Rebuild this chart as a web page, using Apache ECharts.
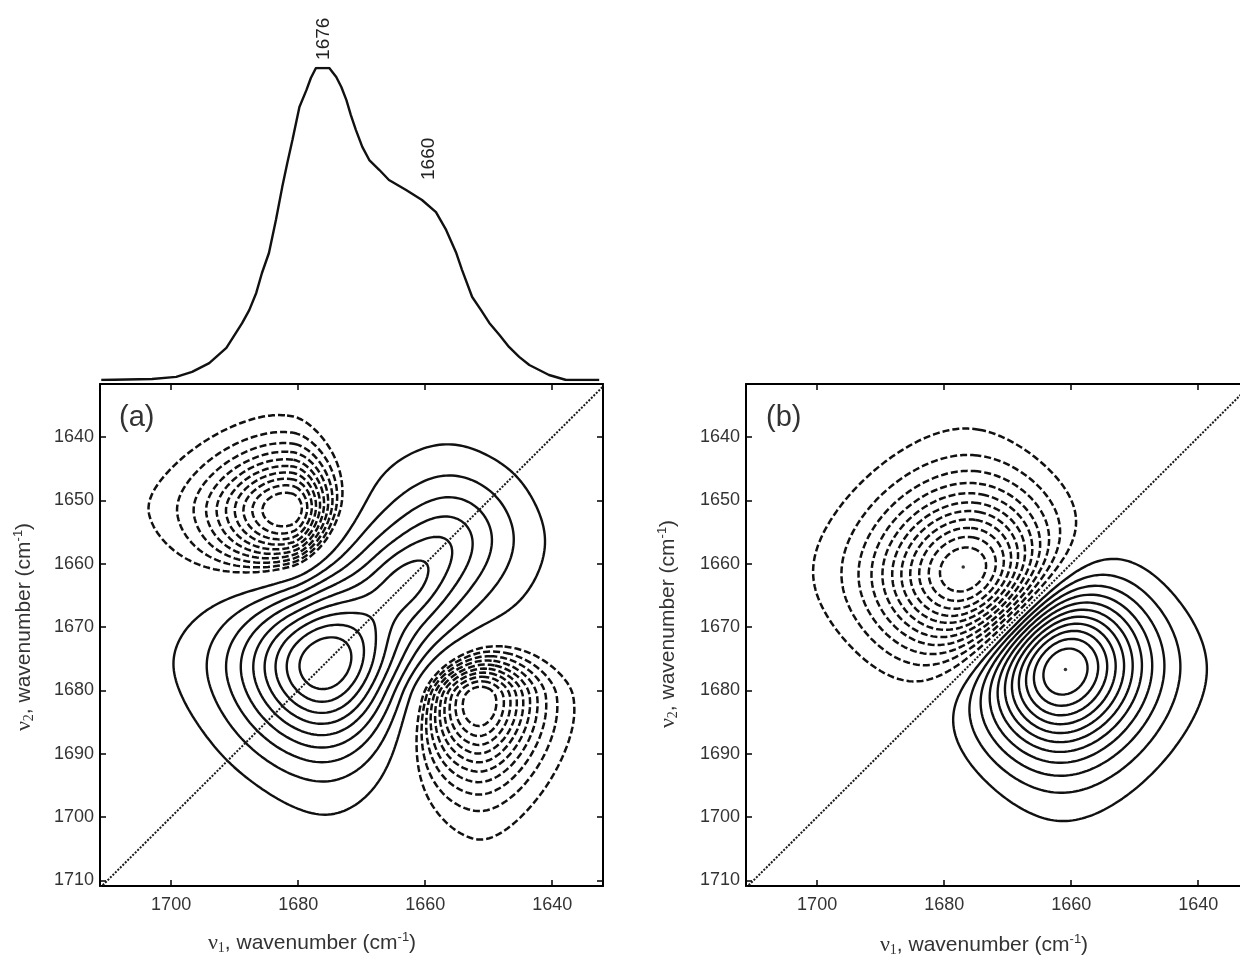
<!DOCTYPE html>
<html>
<head>
<meta charset="utf-8">
<script src="https://cdn.jsdelivr.net/npm/echarts@6/dist/echarts.min.js"></script>
<style>
  html, body { margin: 0; padding: 0; background: #fff; }
  #chart { width: 1240px; height: 957px; }
</style>
</head>
<body>
<div id="chart"></div>
<script>
// averaged 1D spectrum drawn above panel (a): wavenumber / relative absorbance
const specWn = [1711.0, 1703.0, 1699.2, 1696.7, 1694.0, 1691.3, 1688.8, 1687.7, 1686.6, 1685.7, 1684.6,
  1683.5, 1682.5, 1681.7, 1680.9, 1679.8, 1678.7, 1678.0, 1677.2, 1675.1, 1674.0, 1673.2, 1672.4, 1671.7,
  1670.9, 1669.9, 1668.8, 1667.2, 1665.7, 1663.0, 1660.5, 1658.3, 1656.7, 1655.1, 1654.2, 1652.6, 1651.2,
  1649.9, 1648.3, 1646.8, 1645.2, 1643.6, 1640.5, 1637.8, 1632.6];
const specAbs = [0.000, 0.003, 0.010, 0.026, 0.054, 0.103, 0.183, 0.224, 0.279, 0.343, 0.407,
  0.513, 0.619, 0.696, 0.769, 0.875, 0.929, 0.968, 1.000, 1.000, 0.971, 0.939, 0.897, 0.849,
  0.801, 0.747, 0.705, 0.673, 0.641, 0.609, 0.577, 0.538, 0.481, 0.407, 0.353, 0.266, 0.224,
  0.183, 0.144, 0.106, 0.074, 0.048, 0.016, 0.000, 0.000];
const peakLabels = ['1676', '1660'];
const peakLabelWn = [1676, 1659.4];
const peakLabelAbs = [1.026, 0.641];

const xTicks = [1640, 1660, 1680, 1700];
const yTicks = [1640, 1650, 1660, 1670, 1680, 1690, 1700, 1710];
const xRange = [1632.0, 1711.2];
const yRange = [1631.6, 1710.9];

// (a) synchronous map, peaks: [v1, v2, amplitude, w1 high, w1 low, w2 high, w2 low, rotation deg]
// off-diagonal peaks are mirrored about the diagonal
const synPeaks = [
  [1676, 1676, 1.00, 11.5, 11.5, 11.5, 11.5, 0],
  [1656, 1656, 0.38, 10, 10, 10, 10, 0],
  [1663, 1663, 0.30, 7, 7, 5.5, 5.5, 45],
  [1681, 1652.3, -0.5, 10.5, 6.5, 10.5, 8.2, 0]
];
const synEta = 0.4; // lorentzian share of the band shape
const synPosLevels = [0.1, 0.2, 0.3, 0.4, 0.5, 0.6, 0.7, 0.8, 0.9];
const synNegLevels = [0.09, 0.18, 0.27, 0.36, 0.45, 0.54, 0.63, 0.72, 0.81, 0.9];

// (b) asynchronous map, bands: [centre, w high, w low]; pairs: [i, j, amplitude]
const asynBands = [[1675.25, 12, 12], [1662.25, 11.2, 11.2]];
const asynPairs = [[1, 0, 1.0]];
const asynEta = 0.25;
const asynLevels = [1, 2, 3, 4, 5, 6, 7, 8, 9, 10, 11].map(k => k / 12);
const asynDots = [[1677.0, 1660.5], [1660.9, 1676.7]];

function band(r, w, eta) {
  const t = r / w;
  return eta / (1 + t * t) + (1 - eta) * Math.exp(-Math.LN2 * t * t);
}
function peakTerm(p, x, y) {
  const [cx, cy, a, w1h, w1l, w2h, w2l, rot] = p;
  let u = x - cx, v = y - cy;
  if (rot) {
    const c = Math.cos(rot * Math.PI / 180), s = Math.sin(rot * Math.PI / 180);
    const uu = u * c + v * s;
    v = -u * s + v * c;
    u = uu;
  }
  return a * band(u, u >= 0 ? w1h : w1l, synEta) * band(v, v >= 0 ? w2h : w2l, synEta);
}
function synAt(x, y) {
  let s = 0;
  for (const p of synPeaks) {
    s += peakTerm(p, x, y);
    if (p[0] !== p[1]) s += peakTerm(p, y, x);
  }
  return s;
}
function bandAt(b, x) {
  const d = x - b[0];
  return band(d, d >= 0 ? b[1] : b[2], asynEta);
}
function asynAt(x, y) {
  let s = 0;
  for (const [i, j, a] of asynPairs) {
    const bi = asynBands[i], bj = asynBands[j];
    s += a * (bandAt(bi, x) * bandAt(bj, y) - bandAt(bj, x) * bandAt(bi, y));
  }
  return s;
}

function sampleGrid(f, h) {
  const nx = Math.ceil((xRange[1] - xRange[0]) / h), ny = Math.ceil((yRange[1] - yRange[0]) / h);
  const vals = new Float64Array((nx + 1) * (ny + 1));
  let min = Infinity, max = -Infinity;
  for (let j = 0; j <= ny; j++) {
    for (let i = 0; i <= nx; i++) {
      const z = f(xRange[0] + i * h, yRange[0] + j * h);
      vals[j * (nx + 1) + i] = z;
      if (z < min) min = z;
      if (z > max) max = z;
    }
  }
  return { nx, ny, h, vals, min, max };
}

// marching squares, segments joined into polylines
function traceLevel(g, L) {
  const { nx, ny, h, vals } = g;
  const W = nx + 1;
  const v = (i, j) => vals[j * W + i];
  const pts = new Map(), adj = new Map();
  const segA = [], segB = [];
  const hKey = (i, j) => 2 * (j * W + i);
  const vKey = (i, j) => 2 * (j * W + i) + 1;
  function edgePt(key) {
    if (pts.has(key)) return;
    const idx = key >> 1, i = idx % W, j = (idx - i) / W;
    let x, y;
    if (key & 1) {
      const a = v(i, j), b = v(i, j + 1), t = (L - a) / (b - a);
      x = xRange[0] + i * h; y = yRange[0] + (j + t) * h;
    } else {
      const a = v(i, j), b = v(i + 1, j), t = (L - a) / (b - a);
      x = xRange[0] + (i + t) * h; y = yRange[0] + j * h;
    }
    pts.set(key, [x, y]);
  }
  function add(k1, k2) {
    edgePt(k1); edgePt(k2);
    const s = segA.length;
    segA.push(k1); segB.push(k2);
    (adj.get(k1) || adj.set(k1, []).get(k1)).push(s);
    (adj.get(k2) || adj.set(k2, []).get(k2)).push(s);
  }
  for (let j = 0; j < ny; j++) {
    for (let i = 0; i < nx; i++) {
      const a0 = v(i, j), a1 = v(i + 1, j), a2 = v(i + 1, j + 1), a3 = v(i, j + 1);
      const c = (a0 > L ? 1 : 0) | (a1 > L ? 2 : 0) | (a2 > L ? 4 : 0) | (a3 > L ? 8 : 0);
      if (c === 0 || c === 15) continue;
      const e0 = hKey(i, j), e1 = vKey(i + 1, j), e2 = hKey(i, j + 1), e3 = vKey(i, j);
      const mid = (a0 + a1 + a2 + a3) / 4 > L;
      switch (c) {
        case 1: case 14: add(e3, e0); break;
        case 2: case 13: add(e0, e1); break;
        case 3: case 12: add(e3, e1); break;
        case 4: case 11: add(e1, e2); break;
        case 6: case 9: add(e0, e2); break;
        case 7: case 8: add(e3, e2); break;
        case 5: if (mid) { add(e0, e1); add(e2, e3); } else { add(e3, e0); add(e1, e2); } break;
        case 10: if (mid) { add(e3, e0); add(e1, e2); } else { add(e0, e1); add(e2, e3); } break;
      }
    }
  }
  const used = new Uint8Array(segA.length);
  const lines = [];
  function trace(start) {
    const line = [pts.get(start)];
    let cur = start;
    for (;;) {
      let s = -1;
      for (const q of adj.get(cur)) if (!used[q]) { s = q; break; }
      if (s < 0) break;
      used[s] = 1;
      cur = segA[s] === cur ? segB[s] : segA[s];
      line.push(pts.get(cur));
    }
    return line;
  }
  for (const [k, list] of adj) if (list.length === 1 && !used[list[0]]) lines.push(trace(k));
  for (let s = 0; s < segA.length; s++) if (!used[s]) lines.push(trace(segA[s]));
  return lines.filter(l => l.length > 2);
}

const solidStyle = { color: '#111', width: 2.4, type: 'solid' };
const dashStyle = { color: '#111', width: 2.5, type: [7, 3] };

function contourSeries(g, levels, style, axis) {
  const out = [];
  levels.forEach(L => {
    traceLevel(g, L).forEach(line => {
      out.push({
        type: 'line', xAxisIndex: axis, yAxisIndex: axis, data: line,
        showSymbol: false, symbol: 'none', silent: true, lineStyle: style, z: 3
      });
    });
  });
  return out;
}

const synGrid = sampleGrid(synAt, 0.25);
const asynGrid = sampleGrid(asynAt, 0.25);
const asynMax = Math.max(asynGrid.max, -asynGrid.min);

const series = [];
series.push({
  type: 'line', xAxisIndex: 0, yAxisIndex: 0,
  data: specWn.map((w, i) => [w, specAbs[i]]),
  showSymbol: false, symbol: 'none', lineStyle: { color: '#111', width: 2.4 }
});
series.push(...contourSeries(synGrid, synPosLevels.map(f => f * synGrid.max), solidStyle, 1));
series.push(...contourSeries(synGrid, synNegLevels.map(f => f * synGrid.min), dashStyle, 1));
series.push(...contourSeries(asynGrid, asynLevels.map(f => f * asynMax), solidStyle, 3));
series.push(...contourSeries(asynGrid, asynLevels.map(f => -f * asynMax), dashStyle, 3));
[1, 3].forEach(ax => series.push({
  type: 'line', xAxisIndex: ax, yAxisIndex: ax, data: [[1620, 1620], [1720, 1720]],
  showSymbol: false, symbol: 'none', silent: true, z: 4,
  lineStyle: { color: '#1a1a1a', width: 2, type: [2, 1.5] }
}));
series.push({
  type: 'scatter', xAxisIndex: 3, yAxisIndex: 3, data: asynDots,
  symbolSize: 3.5, itemStyle: { color: '#000' }, z: 5
});

const labelFont = { fontSize: 18, color: '#333', fontFamily: 'Liberation Sans', formatter: v => String(v) };
const lineAxis = { show: true, onZero: false, lineStyle: { color: '#000', width: 2 } };

function xAxisFor(grid, pos, labels) {
  return {
    type: 'value', gridIndex: grid, min: xRange[0], max: xRange[1], inverse: true, position: pos,
    axisLine: lineAxis,
    axisTick: { show: true, inside: true, length: 6, customValues: xTicks, lineStyle: { color: '#000', width: 1.5 } },
    axisLabel: Object.assign({ show: labels, customValues: xTicks, margin: 10 }, labelFont),
    splitLine: { show: false }
  };
}
function yAxisFor(grid, pos, labels) {
  return {
    type: 'value', gridIndex: grid, min: yRange[0], max: yRange[1], inverse: true, position: pos,
    axisLine: lineAxis,
    axisTick: { show: true, inside: true, length: 6, customValues: yTicks, lineStyle: { color: '#000', width: 1.5 } },
    axisLabel: Object.assign({ show: labels, customValues: yTicks, margin: 6 }, labelFont),
    splitLine: { show: false }
  };
}

const chart = echarts.init(document.getElementById('chart'));
chart.setOption({
  animation: false,
  backgroundColor: '#fff',
  grid: [
    { left: 100, top: 68, width: 503, height: 312, outerBoundsMode: 'none', containLabel: false },
    { left: 100, top: 384, width: 503, height: 502, outerBoundsMode: 'none', containLabel: false },
    { left: 746, top: 384, width: 503, height: 502, outerBoundsMode: 'none', containLabel: false }
  ],
  xAxis: [
    { type: 'value', gridIndex: 0, min: xRange[0], max: xRange[1], inverse: true, show: false },
    xAxisFor(1, 'bottom', true), xAxisFor(1, 'top', false),
    xAxisFor(2, 'bottom', true), xAxisFor(2, 'top', false)
  ],
  yAxis: [
    { type: 'value', gridIndex: 0, min: 0, max: 1, show: false },
    yAxisFor(1, 'left', true), yAxisFor(1, 'right', false),
    yAxisFor(2, 'left', true), yAxisFor(2, 'right', false)
  ],
  series: series
});

const titleRich = {
  nu: { fontFamily: 'Liberation Serif', fontSize: 22, fill: '#333', lineHeight: 25 },
  sub: { fontFamily: 'Liberation Serif', fontSize: 14, fill: '#333', verticalAlign: 'bottom', lineHeight: 25 },
  t: { fontFamily: 'Liberation Sans', fontSize: 21, fill: '#333', lineHeight: 25 },
  sup: { fontFamily: 'Liberation Sans', fontSize: 13, fill: '#333', verticalAlign: 'top', lineHeight: 25 }
};
function axisTitle(n, x, y, rot) {
  return {
    type: 'text', x: x, y: y, rotation: rot, silent: true,
    style: {
      text: '{nu|ν}{sub|' + n + '}{t|, wavenumber (cm}{sup|-1}{t|)}',
      rich: titleRich, align: 'center', verticalAlign: 'middle'
    }
  };
}
const graphic = [
  axisTitle(1, 312, 943, 0),
  axisTitle(1, 984, 945, 0),
  axisTitle(2, 24, 627, Math.PI / 2),
  axisTitle(2, 668, 624, Math.PI / 2),
  { type: 'text', x: 119, y: 418, silent: true,
    style: { text: '(a)', fontSize: 29, fontFamily: 'Liberation Sans', fill: '#333', verticalAlign: 'middle' } },
  { type: 'text', x: 766, y: 418, silent: true,
    style: { text: '(b)', fontSize: 29, fontFamily: 'Liberation Sans', fill: '#333', verticalAlign: 'middle' } }
];
peakLabels.forEach((t, i) => {
  const p = chart.convertToPixel({ xAxisIndex: 0, yAxisIndex: 0 }, [peakLabelWn[i], peakLabelAbs[i]]);
  graphic.push({
    type: 'text', x: p[0], y: p[1], rotation: Math.PI / 2, silent: true,
    style: { text: t, fontSize: 19, fontFamily: 'Liberation Sans', fill: '#222', align: 'left', verticalAlign: 'middle' }
  });
});
chart.setOption({ graphic: graphic });
</script>
</body>
</html>
